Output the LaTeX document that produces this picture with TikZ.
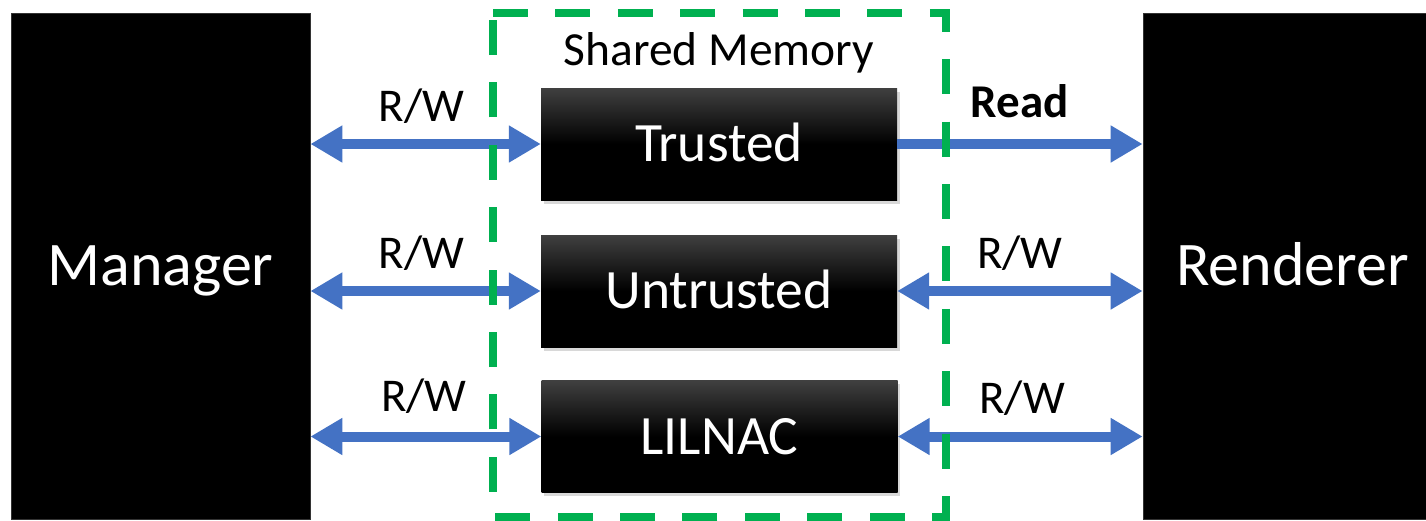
\documentclass[tikz,border=0pt]{standalone}
\usepackage{fontspec}
\setmainfont{Carlito}
\usetikzlibrary{arrows.meta,shadows}
\definecolor{linkblue}{HTML}{4472C4}
\definecolor{memgreen}{HTML}{00B050}
% memory blocks: dark grey at the top, fading to black
\pgfdeclareverticalshading{memfade}{100bp}{color(0bp)=(black); color(25bp)=(black); color(50bp)=(black); color(75bp)=(black!75); color(100bp)=(black!75)}
\begin{document}
\begin{tikzpicture}[x=1pt,y=-1pt,
  endpoint/.style={fill=black, draw=black!80, line width=0.8pt, text=white,
    font=\fontsize{62}{74}\selectfont, text height=39pt, text depth=0pt,
    inner sep=0pt, minimum width=299pt, minimum height=506pt},
  memblock/.style={shading=memfade, text=white,
    font=\fontsize{55.5}{66}\selectfont, minimum width=356pt, minimum height=112pt,
    text height=35.5pt, text depth=0pt, inner sep=0pt,
    drop shadow={shadow xshift=2.5pt, shadow yshift=-3.5pt, opacity=0.3}},
  link/.style={draw=linkblue, line width=10pt, {Triangle[width=35pt,length=32pt]}-{Triangle[width=35pt,length=32pt]}},
  oneway/.style={draw=linkblue, line width=10pt, -{Triangle[width=35pt,length=32pt]}},
  access/.style={font=\fontsize{47}{56}\selectfont, anchor=base, yshift=23pt, inner sep=0pt},
  frame/.style={draw=memgreen, line width=8pt, dash pattern=on 35pt off 27.4pt}]

\clip (0,0) rectangle (1426,520);
\fill[white] (0,0) rectangle (1426,520);

% processes on either side
\node[endpoint] (mgr) at (160.5,266) {Manager};
\node[endpoint] (rnd) at (1292.5,266) {Renderer};

% regions of shared memory
\node[memblock] (trusted)   at (719,144)   {Trusted};
\node[memblock] (untrusted) at (719,291)   {Untrusted};
\node[memblock] (lilnac)    at (719.5,436.5) {LILNAC};

% access paths
\draw[link] (mgr.east |- trusted.west) -- node[access, xshift=-4pt] {R/W} (trusted.west);
\draw[link] (mgr.east |- untrusted.west) -- node[access, xshift=-4pt] {R/W} (untrusted.west);
\draw[link] (mgr.east |- lilnac.west) -- node[access, xshift=-2pt, yshift=2pt] {R/W} (lilnac.west);

\draw[oneway] (trusted.east) -- node[access, yshift=4pt, font=\fontsize{47}{56}\selectfont\bfseries] {Read} (trusted.east -| rnd.west);
\draw[link] (untrusted.east) -- node[access] {R/W} (untrusted.east -| rnd.west);
\draw[link] (lilnac.east) -- node[access, xshift=2pt] {R/W} (lilnac.east -| rnd.west);

% shared memory boundary
\coordinate (tl) at (493,13);
\coordinate (tr) at (946,13);
\coordinate (br) at (946,517);
\coordinate (bl) at (493,517);
\draw[frame] (tl) -- (tr) -- (br) -- (bl) -- cycle;
\node[font=\fontsize{47.5}{57}\selectfont, anchor=base, inner sep=0pt] (shmlabel) at (719,65) {Shared Memory};
\end{tikzpicture}
\end{document}
